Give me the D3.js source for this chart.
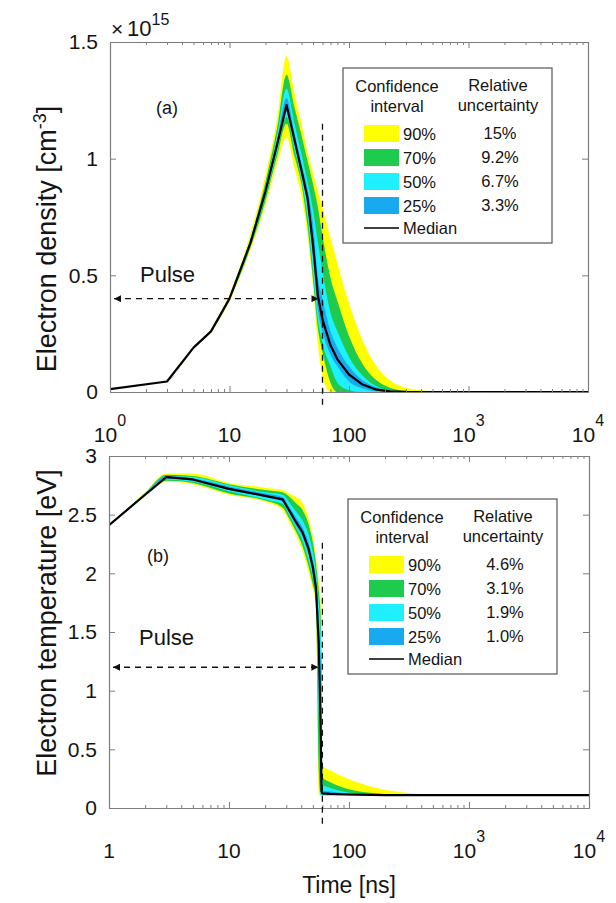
<!DOCTYPE html>
<html>
<head>
<meta charset="utf-8">
<script src="https://cdn.jsdelivr.net/npm/d3@7"></script>
<style>
  body { margin: 0; background: #fff; }
  svg { display: block; font-family: "Liberation Sans", Arial, Helvetica, sans-serif; }
</style>
</head>
<body>
<svg id="chart" width="616" height="903"></svg>
<script>
// ---------- (a) electron density, units of 1e15 cm^-3 ----------
const timeDensity = [1, 3, 5, 7, 10, 15, 20, 25, 30, 35, 40, 45, 50, 55, 60, 70, 80, 100, 130, 170, 220, 300, 500, 1000, 10000];
const densityMedian = [0.012, 0.045, 0.19, 0.26, 0.40, 0.64, 0.86, 1.06, 1.23, 1.08, 0.95, 0.83, 0.63, 0.41, 0.31, 0.20, 0.14, 0.075, 0.032, 0.01, 0.003, 0.0008, 0, 0, 0];
const density90Hi = [0.012, 0.045, 0.19, 0.265, 0.42, 0.68, 0.93, 1.17, 1.44, 1.28, 1.15, 1.03, 0.94, 0.86, 0.79, 0.66, 0.55, 0.38, 0.22, 0.11, 0.05, 0.018, 0.004, 0.001, 0.002];
const density90Lo = [0.012, 0.045, 0.19, 0.255, 0.39, 0.61, 0.80, 0.98, 1.09, 0.96, 0.84, 0.67, 0.45, 0.20, 0.07, 0, 0, 0, 0, 0, 0, 0, 0, 0, 0];
const density70Hi = [0.012, 0.045, 0.19, 0.262, 0.41, 0.66, 0.90, 1.13, 1.36, 1.22, 1.10, 0.99, 0.89, 0.79, 0.67, 0.49, 0.39, 0.24, 0.12, 0.05, 0.018, 0.004, 0, 0, 0];
const density70Lo = [0.012, 0.045, 0.19, 0.258, 0.395, 0.62, 0.82, 1.01, 1.15, 1.01, 0.89, 0.71, 0.48, 0.27, 0.17, 0.04, 0, 0, 0, 0, 0, 0, 0, 0, 0];
const density50Hi = [0.012, 0.045, 0.19, 0.261, 0.405, 0.65, 0.88, 1.10, 1.30, 1.15, 1.02, 0.90, 0.78, 0.64, 0.52, 0.34, 0.26, 0.15, 0.07, 0.025, 0.005, 0, 0, 0, 0];
const density50Lo = [0.012, 0.045, 0.19, 0.259, 0.398, 0.63, 0.84, 1.03, 1.18, 1.04, 0.91, 0.75, 0.52, 0.31, 0.21, 0.11, 0.04, 0.008, 0, 0, 0, 0, 0, 0, 0];
const density25Hi = [0.012, 0.045, 0.19, 0.26, 0.402, 0.645, 0.87, 1.08, 1.26, 1.11, 0.98, 0.87, 0.72, 0.49, 0.40, 0.26, 0.19, 0.11, 0.05, 0.02, 0.005, 0, 0, 0, 0];
const density25Lo = [0.012, 0.045, 0.19, 0.26, 0.40, 0.635, 0.85, 1.045, 1.20, 1.06, 0.93, 0.80, 0.57, 0.35, 0.26, 0.16, 0.11, 0.045, 0.015, 0.003, 0, 0, 0, 0, 0];

// ---------- (b) electron temperature, eV ----------
const timeTemp = [1, 2, 3, 5, 10, 20, 28, 32, 36, 41, 46, 50, 53, 56, 58, 59, 60, 70, 100, 150, 200, 300, 500, 1000, 10000];
const tempMedian = [2.41, 2.67, 2.82, 2.80, 2.72, 2.66, 2.63, 2.53, 2.44, 2.35, 2.21, 2.05, 1.88, 1.40, 0.70, 0.14, 0.125, 0.12, 0.115, 0.112, 0.11, 0.11, 0.11, 0.11, 0.11];
const temp90Hi = [2.41, 2.69, 2.85, 2.85, 2.77, 2.73, 2.71, 2.68, 2.65, 2.60, 2.47, 2.31, 2.14, 1.93, 1.76, 1.45, 0.36, 0.32, 0.245, 0.185, 0.155, 0.13, 0.115, 0.11, 0.11];
const temp90Lo = [2.41, 2.66, 2.78, 2.76, 2.67, 2.61, 2.54, 2.43, 2.33, 2.19, 2.01, 1.86, 1.73, 0.11, 0.105, 0.105, 0.105, 0.105, 0.105, 0.105, 0.105, 0.105, 0.105, 0.105, 0.105];
const temp70Hi = [2.41, 2.685, 2.84, 2.83, 2.76, 2.71, 2.69, 2.65, 2.60, 2.54, 2.42, 2.26, 2.09, 1.85, 1.65, 1.30, 0.26, 0.22, 0.16, 0.13, 0.12, 0.113, 0.11, 0.11, 0.11];
const temp70Lo = [2.41, 2.665, 2.79, 2.77, 2.68, 2.62, 2.56, 2.46, 2.36, 2.23, 2.06, 1.90, 1.77, 0.30, 0.108, 0.108, 0.108, 0.108, 0.108, 0.108, 0.108, 0.108, 0.108, 0.108, 0.108];
const temp50Hi = [2.41, 2.68, 2.83, 2.82, 2.75, 2.69, 2.67, 2.60, 2.53, 2.45, 2.33, 2.18, 2.02, 1.75, 1.50, 1.00, 0.20, 0.17, 0.13, 0.115, 0.11, 0.11, 0.11, 0.11, 0.11];
const temp50Lo = [2.41, 2.668, 2.80, 2.78, 2.70, 2.63, 2.59, 2.49, 2.39, 2.28, 2.11, 1.96, 1.80, 0.80, 0.11, 0.11, 0.11, 0.11, 0.11, 0.11, 0.11, 0.11, 0.11, 0.11, 0.11];
const temp25Hi = [2.41, 2.675, 2.83, 2.81, 2.74, 2.68, 2.65, 2.56, 2.48, 2.39, 2.26, 2.11, 1.95, 1.60, 1.10, 0.50, 0.15, 0.14, 0.12, 0.113, 0.11, 0.11, 0.11, 0.11, 0.11];
const temp25Lo = [2.41, 2.67, 2.81, 2.79, 2.71, 2.65, 2.61, 2.51, 2.41, 2.31, 2.16, 1.99, 1.82, 1.20, 0.30, 0.12, 0.115, 0.112, 0.11, 0.11, 0.11, 0.11, 0.11, 0.11, 0.11];

// ---------- axes and legend content ----------
const xMajorTicks = [1, 10, 100, 1000, 10000];
const xTickLabelsA = ["10^0", "10", "100", "10^3", "10^4"];
const xTickLabelsB = ["1", "10", "100", "10^3", "10^4"];
const yTicksA = [0, 0.5, 1, 1.5];
const yTickLabelsA = ["0", "0.5", "1", "1.5"];
const yTicksB = [0, 0.5, 1, 1.5, 2, 2.5, 3];
const yTickLabelsB = ["0", "0.5", "1", "1.5", "2", "2.5", "3"];
const ciLevels = ["90%", "70%", "50%", "25%"];
const ciColors = ["#ffff00", "#1fcb4f", "#1ef0ff", "#19a9ef"];
const relUncertaintyA = ["15%", "9.2%", "6.7%", "3.3%"];
const relUncertaintyB = ["4.6%", "3.1%", "1.9%", "1.0%"];
const pulseEndNs = 60;
const pulseArrowLevel = [0.4, 1.2];

const svg = d3.select("#chart");
const axisColor = "#7d7d7d";
const textColor = "#141414";

// arrowhead markers for the pulse span
const defs = svg.append("defs");
["start", "end"].forEach(k => {
  defs.append("marker")
    .attr("id", "arrow-" + k)
    .attr("viewBox", "0 0 10 10")
    .attr("refX", 10).attr("refY", 5)
    .attr("markerWidth", 10).attr("markerHeight", 7)
    .attr("markerUnits", "userSpaceOnUse")
    .attr("orient", k === "end" ? "auto" : "auto-start-reverse")
    .append("path").attr("d", "M0,0 L10,5 L0,10 Z").attr("fill", "#111");
});

const minorTicks = [];
for (let e = 0; e < 4; e++) for (let m = 2; m <= 9; m++) minorTicks.push(m * Math.pow(10, e));

function drawPanel(cfg) {
  const { id, box, yDomain, time, median, bands, yTicks, yTickLabels, xLabels } = cfg;
  const x = d3.scaleLog().domain([1, 10000]).range([box.left, box.right]);
  const y = d3.scaleLinear().domain(yDomain).range([box.bottom, box.top]);
  const g = svg.append("g");

  g.append("clipPath").attr("id", "clip-" + id)
    .append("rect").attr("x", box.left).attr("y", box.top)
    .attr("width", box.right - box.left).attr("height", box.bottom - box.top);

  const plot = g.append("g").attr("clip-path", `url(#clip-${id})`);

  // confidence bands, widest first
  bands.forEach(b => {
    const rows = time.map((t, i) => ({ t, lo: b.lo[i], hi: b.hi[i] }));
    plot.append("path")
      .attr("d", d3.area().x(d => x(d.t)).y0(d => y(d.lo)).y1(d => y(d.hi)).curve(d3.curveMonotoneX)(rows))
      .attr("fill", b.color);
  });

  // median curve
  const medRows = time.map((t, i) => ({ t, v: median[i] }));
  plot.append("path")
    .attr("d", d3.line().x(d => x(d.t)).y(d => y(d.v))(medRows))
    .attr("fill", "none").attr("stroke", "#000").attr("stroke-width", 2.2)
    .attr("stroke-linejoin", "round");

  // axes: inward ticks on all four sides
  const styleAxis = sel => {
    sel.selectAll(".domain").attr("stroke", axisColor).attr("stroke-width", 1.2);
    sel.selectAll(".tick line").attr("stroke", axisColor).attr("stroke-width", 1);
  };
  [[d3.axisBottom, box.bottom], [d3.axisTop, box.top]].forEach(([mk, pos]) => {
    g.append("g").attr("transform", `translate(0,${pos})`)
      .call(mk(x).tickValues(minorTicks).tickSize(-3).tickSizeOuter(0).tickFormat(""))
      .call(styleAxis);
    g.append("g").attr("transform", `translate(0,${pos})`)
      .call(mk(x).tickValues(xMajorTicks).tickSize(-6).tickSizeOuter(0).tickFormat(""))
      .call(styleAxis);
  });
  g.append("g").attr("transform", `translate(${box.left},0)`)
    .call(d3.axisLeft(y).tickValues(yTicks).tickSize(-6).tickSizeOuter(0).tickPadding(12)
      .tickFormat((d, i) => yTickLabels[i]))
    .call(styleAxis)
    .call(s => s.selectAll("text").attr("font-size", 21).attr("fill", textColor)
      .attr("font-family", "'Liberation Sans', Arial, sans-serif"));
  g.append("g").attr("transform", `translate(${box.right},0)`)
    .call(d3.axisRight(y).tickValues(yTicks).tickSize(-6).tickSizeOuter(0).tickFormat(""))
    .call(styleAxis);

  // x tick labels with superscript exponents
  xMajorTicks.forEach((v, i) => {
    const [base, exp] = xLabels[i].split("^");
    const t = g.append("text").attr("x", x(v)).attr("y", box.bottom + 50)
      .attr("text-anchor", "middle").attr("font-size", 21).attr("fill", textColor);
    t.append("tspan").text(base);
    if (exp !== undefined) t.append("tspan").attr("dy", -16).attr("font-size", 16).text(exp);
  });

  return { x, y, g };
}

function drawPulse(p, level, textGap) {
  const ya = p.y(level);
  p.g.append("line")
    .attr("x1", p.x(1) + 4).attr("x2", p.x(pulseEndNs) - 4)
    .attr("y1", ya).attr("y2", ya)
    .attr("stroke", "#111").attr("stroke-width", 1.4).attr("stroke-dasharray", "6,5")
    .attr("marker-start", "url(#arrow-start)").attr("marker-end", "url(#arrow-end)");
  p.g.append("text").attr("x", p.x(1) + 30).attr("y", ya - textGap)
    .attr("font-size", 22).attr("fill", textColor).text("Pulse");
}

function drawPulseEnd(p, box, topValue, below) {
  p.g.append("line")
    .attr("x1", p.x(pulseEndNs)).attr("x2", p.x(pulseEndNs))
    .attr("y1", p.y(topValue)).attr("y2", box.bottom + below)
    .attr("stroke", "#111").attr("stroke-width", 1.3).attr("stroke-dasharray", "6,5");
}

function drawLegend(left, top, relValues) {
  const lg = svg.append("g").attr("transform", `translate(${left},${top})`)
    .attr("font-size", 16.5).attr("fill", textColor);
  lg.append("rect").attr("width", 209).attr("height", 175)
    .attr("fill", "#fff").attr("stroke", "#555").attr("stroke-width", 1.2);
  lg.append("text").attr("x", 54).attr("y", 24).attr("text-anchor", "middle").text("Confidence");
  lg.append("text").attr("x", 54).attr("y", 44).attr("text-anchor", "middle").text("interval");
  lg.append("text").attr("x", 155).attr("y", 23).attr("text-anchor", "middle").text("Relative");
  lg.append("text").attr("x", 155).attr("y", 43).attr("text-anchor", "middle").text("uncertainty");
  ciLevels.forEach((lev, i) => {
    const ry = 57 + i * 24;
    lg.append("rect").attr("x", 21).attr("y", ry).attr("width", 35).attr("height", 17).attr("fill", ciColors[i]);
    lg.append("text").attr("x", 60).attr("y", ry + 15).text(lev);
    lg.append("text").attr("x", 157).attr("y", ry + 14).attr("text-anchor", "middle").text(relValues[i]);
  });
  lg.append("line").attr("x1", 21).attr("x2", 56).attr("y1", 160).attr("y2", 160)
    .attr("stroke", "#000").attr("stroke-width", 1.6);
  lg.append("text").attr("x", 60).attr("y", 166).text("Median");
}

// ---------- panel (a) ----------
const boxA = { left: 110, right: 588, top: 42, bottom: 392 };
const pA = drawPanel({
  id: "a", box: boxA, yDomain: [0, 1.5], time: timeDensity, median: densityMedian,
  bands: [
    { color: ciColors[0], lo: density90Lo, hi: density90Hi },
    { color: ciColors[1], lo: density70Lo, hi: density70Hi },
    { color: ciColors[2], lo: density50Lo, hi: density50Hi },
    { color: ciColors[3], lo: density25Lo, hi: density25Hi }
  ],
  yTicks: yTicksA, yTickLabels: yTickLabelsA, xLabels: xTickLabelsA
});
drawPulseEnd(pA, boxA, 1.15, 15);
drawPulse(pA, pulseArrowLevel[0], 17);
pA.g.append("text").attr("x", boxA.left + 46).attr("y", boxA.top + 72)
  .attr("font-size", 18).attr("fill", textColor).text("(a)");
const expo = pA.g.append("text").attr("y", boxA.top - 6).attr("fill", textColor);
expo.append("tspan").attr("x", boxA.left + 1).attr("font-size", 21).text("\u00d7");
expo.append("tspan").attr("x", boxA.left + 17).attr("font-size", 22).text("10");
expo.append("tspan").attr("dy", -11).attr("font-size", 16).text("15");

// ---------- panel (b) ----------
const boxB = { left: 109, right: 589, top: 456, bottom: 808 };
const pB = drawPanel({
  id: "b", box: boxB, yDomain: [0, 3], time: timeTemp, median: tempMedian,
  bands: [
    { color: ciColors[0], lo: temp90Lo, hi: temp90Hi },
    { color: ciColors[1], lo: temp70Lo, hi: temp70Hi },
    { color: ciColors[2], lo: temp50Lo, hi: temp50Hi },
    { color: ciColors[3], lo: temp25Lo, hi: temp25Hi }
  ],
  yTicks: yTicksB, yTickLabels: yTickLabelsB, xLabels: xTickLabelsB
});
drawPulseEnd(pB, boxB, 2.26, 18);
drawPulse(pB, pulseArrowLevel[1], 22);
pB.g.append("text").attr("x", boxB.left + 38).attr("y", boxB.top + 106)
  .attr("font-size", 18).attr("fill", textColor).text("(b)");

drawLegend(343, 68, relUncertaintyA);
drawLegend(348, 499, relUncertaintyB);

// ---------- axis titles ----------
const titleA = svg.append("text").attr("transform", "translate(56,239) rotate(-90)")
  .attr("text-anchor", "middle").attr("font-size", 27).attr("fill", textColor);
titleA.append("tspan").text("Electron density [cm");
titleA.append("tspan").attr("dy", -10).attr("font-size", 18).text("-3");
titleA.append("tspan").attr("dy", 10).text("]");

svg.append("text").attr("transform", "translate(56,623) rotate(-90)")
  .attr("text-anchor", "middle").attr("font-size", 27).attr("fill", textColor)
  .text("Electron temperature [eV]");

svg.append("text").attr("x", (boxB.left + boxB.right) / 2).attr("y", 893)
  .attr("text-anchor", "middle").attr("font-size", 23).attr("fill", textColor)
  .text("Time [ns]");
</script>
</body>
</html>
